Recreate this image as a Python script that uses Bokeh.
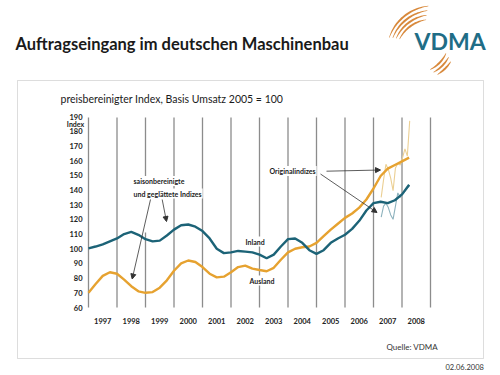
import numpy as np
from bokeh.plotting import figure
from bokeh.models import (Label, Arrow, NormalHead, BoxAnnotation, PolyAnnotation,
                          Range1d, ColumnDataSource)
from bokeh.core.properties import value
from bokeh.embed import file_html
from bokeh.resources import INLINE

# ---------------- data ----------------
years = list(range(1997, 2009))
year_labels = [str(y) for y in years]
year_bounds = list(range(1997, 2010))
y_ticks = list(range(60, 200, 10))
y_tick_labels = [str(v) for v in y_ticks]

smooth_t = [1997.0, 1997.25, 1997.5, 1997.75, 1998.0, 1998.25, 1998.5, 1998.75,
            1999.0, 1999.25, 1999.5, 1999.75, 2000.0, 2000.25, 2000.5, 2000.75,
            2001.0, 2001.25, 2001.5, 2001.75, 2002.0, 2002.25, 2002.5, 2002.75,
            2003.0, 2003.25, 2003.5, 2003.75, 2004.0, 2004.25, 2004.5, 2004.75,
            2005.0, 2005.25, 2005.5, 2005.75, 2006.0, 2006.25, 2006.5, 2006.75,
            2007.0, 2007.25, 2007.5, 2007.75, 2008.0, 2008.25]
inland = [100.3, 101.5, 103, 105, 107, 110, 111.5, 109.5,
          106.5, 105, 105.5, 109, 113, 116, 116.5, 115,
          112, 107, 100, 97, 97.5, 98.5, 98, 97.5,
          96, 93.5, 96, 101.5, 106.5, 107, 104, 99,
          96.5, 99, 104, 107, 109.5, 113.5, 119, 126,
          131, 132, 131, 133, 137, 143.5]
ausland = [70, 76, 81.5, 84, 83, 79, 74.5, 71,
           70, 70.5, 73.5, 78.5, 85, 90, 92, 91,
           87.5, 83, 80.5, 81, 84, 87.5, 88.5, 86.5,
           85.5, 84.7, 87, 92.5, 97.5, 100, 101, 101.5,
           104, 108.5, 113, 117, 121, 124, 128, 133.5,
           141, 149.5, 154.5, 157, 159.5, 162]

orig_t = [2007.27 + i / 12 for i in range(13)]
inland_orig = [121.5, 129, 131, 128, 123, 120, 129, 138, 135, 137, 139, 141, 143]
ausland_orig = [135, 147, 157.5, 154, 148, 139.5, 155, 158, 157, 162, 168, 163, 187]

# ---------------- colours ----------------
TEAL = "#1c6377"
ORANGE = "#e6a230"
TEAL_L = "#8db2bd"
ORANGE_L = "#ebcf93"
GRID = "#8c8c8c"
LOGO_T = "#1f6d86"
LOGO_O = "#d8893c"
TXT = "#222222"

# ---------------- layout helpers (page pixel -> data) ----------------
FL, FR, FT, FB = 88, 430, 116, 307
X0, X1, Y0, Y1 = 1997, 2009, 60, 190
def X(px):
    return X0 + (px - FL) * (X1 - X0) / (FR - FL)
def Y(py):
    return Y0 + (FB - py) * (Y1 - Y0) / (FB - FT)

p = figure(width=500, height=375, output_backend="svg", toolbar_location=None,
           title=None, x_range=Range1d(X(0), X(500)), y_range=Range1d(Y(375), Y(0)),
           x_axis_location=None, y_axis_location=None,
           min_border=0, min_border_left=0, min_border_right=0,
           min_border_top=0, min_border_bottom=0)
p.background_fill_color = "white"
p.border_fill_color = "white"
p.outline_line_color = None
p.grid.visible = False

# year boundary lines
p.segment(x0=year_bounds, y0=[Y0] * len(year_bounds), x1=year_bounds,
          y1=[Y1 - 0.6] * len(year_bounds), line_color=GRID, line_width=1.3)

# tick labels (from the tick arrays, placed through the plot's scales)
p.text(x=[X(82)] * len(y_ticks), y=y_ticks, text=y_tick_labels, text_align="right",
       text_baseline="middle", text_font=value("Lato"), text_font_style="bold",
       text_font_size="7.5px", text_color=TXT)
p.text(x=[y + 0.5 for y in years], y=[Y(320.5)] * len(years), text=year_labels,
       text_align="center", text_baseline="middle", text_font=value("Lato"),
       text_font_style="bold", text_font_size="7.5px", text_color=TXT)

# series
src = ColumnDataSource(dict(t=smooth_t, inland=inland, ausland=ausland))
osrc = ColumnDataSource(dict(t=orig_t, inland=inland_orig, ausland=ausland_orig))
p.line("t", "ausland", source=osrc, color=ORANGE_L, line_width=1.1)
p.line("t", "inland", source=osrc, color=TEAL_L, line_width=1.1)
p.line("t", "ausland", source=src, color=ORANGE, line_width=2.4)
p.line("t", "inland", source=src, color=TEAL, line_width=2.4)

# white gap behind the annotation block
p.add_layout(BoxAnnotation(left=X(141), right=X(150), top=Y(176), bottom=Y(232),
                           fill_color="white", fill_alpha=1, line_alpha=0))

def lab(txt, px, py, size="7px", bold=True, color=TXT, align="left", font="Lato", bg=None):
    kw = {}
    if bg:
        kw = dict(background_fill_color=bg, background_fill_alpha=1, padding=1)
    p.add_layout(Label(x=X(px), y=Y(py), text=txt, text_font=font,
                       text_font_size=size, text_font_style="bold" if bold else "normal",
                       text_color=color, text_align=align, text_baseline="middle", **kw))

lab("Index", 75, 123.5, align="center")
lab("saisonbereinigte", 132, 180.5, bg="white")
lab("und geglättete Indizes", 132, 193, bg="white")
lab("Originalindizes", 268, 170.5, bg="white")
lab("Inland", 244, 241, bg="white")
lab("Ausland", 248, 280, bg="white")

def arr(x0, y0, x1, y1):
    p.add_layout(Arrow(x_start=X(x0), y_start=Y(y0), x_end=X(x1), y_end=Y(y1),
                       line_color="#333333", line_width=0.8,
                       end=NormalHead(size=5, fill_color="#333333", line_color="#333333")))

arr(150, 199, 131.7, 278.5)
arr(161.7, 199, 166, 221)
arr(326, 170.7, 380, 169.5)
arr(320, 173.5, 376.5, 212)

# page decoration: title, subtitle, box, logo, source, date
lab("Auftragseingang im deutschen Maschinenbau", 15, 43, size="16.5px", color="#1a1a1a")
lab("preisbereinigter Index, Basis Umsatz 2005 = 100", 60, 98, size="10.5px", bold=False,
    color="#1a1a1a")
lab("Quelle: VDMA", 386, 346, size="8px", bold=False, color="#333333")
lab("02.06.2008", 445, 366, size="7.5px", bold=False, color="#333333")
lab("VDMA", 414, 40, size="23px", color=LOGO_T)

p.add_layout(BoxAnnotation(left=X(17), right=X(483), top=Y(80), bottom=Y(358),
                           fill_alpha=0, line_color="#8f8f8f", line_width=1))

def arc_band(cx, cy, r0, r1, a0, a1, w):
    a = np.radians(np.linspace(a0, a1, 30))
    r = np.linspace(r0, r1, 30)
    wid = w * np.sin(np.linspace(0.25, np.pi - 0.25, 30))
    ox = cx + (r + wid / 2) * np.cos(a)
    oy = cy - (r + wid / 2) * np.sin(a)
    ix = cx + (r - wid / 2) * np.cos(a)
    iy = cy - (r - wid / 2) * np.sin(a)
    xs = list(ox) + list(ix[::-1])
    ys = list(oy) + list(iy[::-1])
    p.add_layout(PolyAnnotation(xs=[X(v) for v in xs], ys=[Y(v) for v in ys],
                                fill_color=LOGO_O, fill_alpha=1, line_alpha=0))

for k in range(4):
    arc_band(430, 55, 36 + k * 4.5, 35 + k * 3.3, 97 - k * 1.5, 152 + k * 1.5, 2.0)
for k in range(3):
    arc_band(414, 40, 33 + k * 4, 34 + k * 4, -62 + k * 3, -22 - k * 4, 2.0)

open("out.html", "w").write(file_html(p, INLINE))
